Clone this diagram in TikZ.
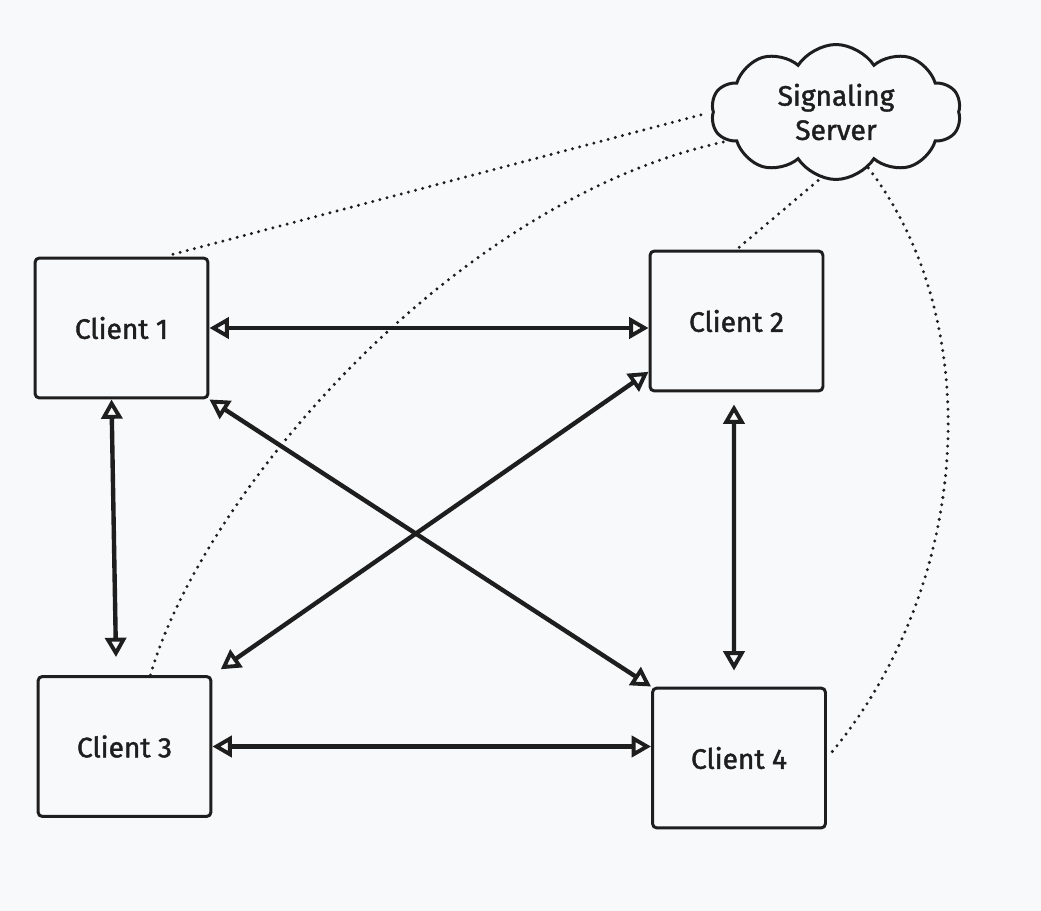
\documentclass[tikz,border=0pt]{standalone}
\usepackage{fontspec}
\setmainfont{Fira Sans}
\usetikzlibrary{arrows.meta,shapes.symbols}
\definecolor{bg}{HTML}{F8F9FA}
\definecolor{ink}{HTML}{1E1E1E}
\tikzset{
  client/.style={draw=ink,line width=1.7pt,rounded corners=2.5pt,fill=bg,
    minimum width=3.46cm,minimum height=2.8cm,text=ink,
    font=\fontsize{16}{19}\selectfont\addfontfeature{FakeBold=1.5}},
  server/.style={cloud,cloud puffs=10,cloud puff arc=115,cloud ignores aspect,inner sep=0pt,
    draw=ink,line width=1.7pt,fill=bg,minimum width=5cm,minimum height=2.7cm,align=center,text=ink,
    font=\fontsize{16}{19.5}\selectfont\addfontfeature{FakeBold=1.5}},
  link/.style={draw=ink,line width=2.5pt,line join=round,
    {Triangle[open,length=11pt,width=12pt,line width=2.2pt]}-{Triangle[open,length=11pt,width=12pt,line width=2.2pt]}},
  signal/.style={draw=ink,line width=1.9pt,line cap=round,dash pattern=on 0pt off 4.2pt}
}
\begin{document}
\begin{tikzpicture}[x=0.02cm,y=-0.02cm]
      \fill[bg] (0,0) rectangle (1041,911);
      \draw
        (836,112) node[server] (srv){Signaling\\Server}
        (121.5,328) node[client] (c1){Client 1}
        (736.5,321) node[client] (c2){Client 2}
        (124.5,746.5) node[client] (c3){Client 3}
        (739,758) node[client] (c4){Client 4};
      \begin{scope}[signal]
        \draw[shorten <=5pt,shorten >=6pt] (c1.59) -- (srv.west);
        \draw (c3.70) .. controls (200,500) and (450,200) .. (srv.195);
        \draw[shorten <=2pt] (c2.north) -- (srv.257);
        \draw[shorten >=3pt] (srv.300) .. controls (985,320) and (975,580) .. (c4.east);
      \end{scope}
      \begin{scope}[link]
        \draw (c1.east) -- (c2.west |- c1.east);
        \draw ([xshift=-0.2cm]c1.south) -- ([xshift=-0.17cm,yshift=0.36cm]c3.north);
        \draw (c1.south east) -- (c4.north west);
        \draw[shorten >=0.2cm] (c2.210) -- (c3.north east);
        \draw[shorten <=0.24cm,shorten >=0.32cm] ([xshift=-0.05cm]c2.south) -- ([xshift=-0.1cm]c4.north);
        \draw (c3.east) -- (c4.west |- c3.east);
      \end{scope}
    \end{tikzpicture}
\end{document}
